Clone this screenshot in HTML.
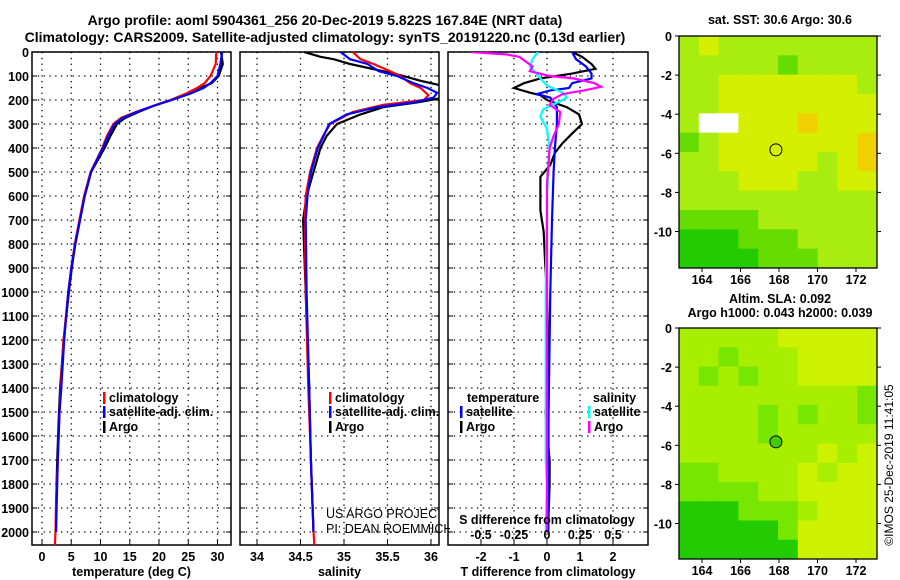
<!DOCTYPE html>
<html><head><meta charset="utf-8"><style>
html,body{margin:0;padding:0;background:#fff;}
svg{display:block;font-family:"Liberation Sans",Arial,sans-serif;}
.b{font-weight:bold;font-size:12.5px;}
.t{font-weight:bold;font-size:14px;}
</style></head><body>
<svg id="c" width="900" height="580" viewBox="0 0 900 580" xmlns="http://www.w3.org/2000/svg">
<defs>
<clipPath id="cp1"><rect x="32" y="52" width="199" height="493"/></clipPath>
<clipPath id="cp2"><rect x="240" y="52" width="199" height="493"/></clipPath>
<clipPath id="cp2w"><rect x="240" y="52" width="210" height="493"/></clipPath>
<clipPath id="cp3"><rect x="448" y="52" width="200" height="493"/></clipPath>
</defs>
<text class="t" x="325" y="25" text-anchor="middle">Argo profile: aoml 5904361_256 20-Dec-2019 5.822S 167.84E (NRT data)</text>
<text class="t" x="325" y="42" text-anchor="middle">Climatology: CARS2009. Satellite-adjusted climatology: synTS_20191220.nc (0.13d earlier)</text>
<g id="g1"></g>
<g id="g2"></g>
<g id="g3"></g>
<g id="gm"></g>
<text x="893" y="465" font-size="12" text-anchor="middle" transform="rotate(-90 893 465)">©IMOS 25-Dec-2019 11:41:05</text>
</svg>
<script>
// ---------- data ----------
const depthTicks=[0,100,200,300,400,500,600,700,800,900,1000,1100,1200,1300,1400,1500,1600,1700,1800,1900,2000];
const tempTicks=[0,5,10,15,20,25,30];
const salTicks=[34,34.5,35,35.5,36];
const tdiffTicks=[-2,-1,0,1,2];
const sdiffTicks=[-0.5,-0.25,0,0.25,0.5];

const tArgoD=[0,50,100,130,150,175,200,225,250,275,300,350,400,500,600,700,800,900,1000,1200,1400,1500,1700,1900,2000];
const tArgo=[30.6,30.9,30.2,29,27,24.5,22,19,16.5,14.2,12.8,11.7,10.7,8.4,7.3,6.5,5.7,5.1,4.6,3.7,3.1,2.9,2.6,2.4,2.4];
const tClimD=[0,50,100,130,150,175,200,225,250,275,300,350,400,500,600,700,800,900,1000,1200,1400,1500,1700,1900,2000,2054];
const tClim=[29.8,29.7,28.8,27.8,26.5,24.5,22,19,16,13.5,12.2,11.1,10.3,8.3,7.2,6.4,5.6,5.0,4.5,3.7,3.2,3.0,2.7,2.4,2.3,2.2];
const tSatD=[0,50,100,130,150,175,200,225,250,275,300,350,400,500,600,700,800,900,1000,1200,1400,1500,1700,1900,2000];
const tSat=[30.8,30.5,30.0,28.8,27.6,25.2,22.2,19,16.2,13.8,12.4,11.3,10.4,8.4,7.3,6.5,5.7,5.0,4.5,3.8,3.3,3.0,2.7,2.5,2.4];

const sArgoD=[0,20,30,50,80,100,120,140,160,190,210,230,260,300,350,400,500,600,700,1000,1400,1700,2000];
const sArgo=[34.54,34.73,34.88,35.07,35.45,35.68,35.88,36.12,36.2,36.15,35.84,35.45,35.19,34.92,34.8,34.73,34.65,34.57,34.53,34.56,34.6,34.62,34.65];
const sClimD=[0,30,50,80,100,130,150,180,200,220,250,300,350,400,500,600,700,1000,1400,1700,2000,2054];
const sClim=[35.1,35.19,35.34,35.53,35.65,35.76,35.88,35.97,35.92,35.45,35.1,34.84,34.76,34.69,34.61,34.56,34.55,34.56,34.59,34.62,34.65,34.66];
const sSatD=[0,30,50,80,100,130,150,170,190,210,230,260,300,400,500,600,700,1000,1400,1700,2000];
const sSat=[34.96,35.07,35.27,35.4,35.61,35.8,35.96,36.07,36.03,35.8,35.38,35.03,34.83,34.7,34.62,34.58,34.56,34.57,34.6,34.62,34.65];

const dtArgoD=[0,20,50,70,90,110,130,150,170,180,200,230,260,300,340,380,420,470,520,580,660,750,900,1000,1400,1500,1700,1800,2000];
const dtArgo=[0.76,1.06,1.35,1.47,0.76,-0.2,-0.7,-1.0,-0.5,-0.2,0,0.6,0.97,1.06,0.76,0.47,0.24,0.1,-0.2,-0.2,-0.2,-0.1,-0.05,0,0.05,-0.05,0.08,0.08,0.03];
const dtSatD=[0,30,60,90,110,130,150,160,175,190,230,300,400,500,700,1000,1500,2000];
const dtSat=[0.76,0.88,1.18,1.35,1.35,0.76,0.67,0.1,-0.3,0.1,0.3,0.3,0.24,0.2,0.15,0.1,0.05,0.04];
const dsSatD=[0,30,60,90,110,140,170,190,210,240,270,320,400,600,1000,1700,1800,2000];
const dsSat=[-0.07,-0.11,-0.13,-0.08,-0.05,0,0.12,0.15,0.08,-0.03,-0.05,0,0.02,0,-0.01,-0.01,0,-0.01];
const dsArgoD=[0,10,20,40,60,80,100,110,130,145,160,175,195,220,250,300,350,400,550,1000,2000];
const dsArgo=[-0.58,-0.31,-0.21,-0.16,-0.11,-0.13,0.02,0.2,0.36,0.41,0.28,0.12,0.05,0.02,0.1,0.09,0.05,0.02,0,0,0];

const sstLevels=[
[2,3,2,2,2,2,2,2,2,2],[2,2,2,2,2,1,2,2,2,2],[2,2,3,3,3,3,3,3,3,2],[2,2,3,3,3,3,3,3,3,3],
[2,5,5,3,3,3,4,3,3,3],[1,2,3,3,3,3,3,3,3,4],[2,2,3,3,3,3,3,2,3,4],[2,2,2,3,3,3,2,2,3,3],
[2,2,2,2,2,2,2,2,2,2],[1,1,1,1,2,2,2,2,2,2],[0,0,0,1,1,1,2,2,2,2],[0,0,0,0,1,1,1,2,2,2]];
const slaLevels=[
[2,2,2,2,2,3,3,3,3,3],[2,2,1,2,2,2,3,3,3,3],[2,1,2,1,2,2,3,3,3,3],[2,2,2,2,2,2,2,2,2,1],
[2,2,2,2,1,2,1,2,2,1],[2,2,2,2,1,2,2,2,2,2],[2,2,2,2,2,2,2,3,2,3],[1,1,2,2,2,2,3,2,3,3],
[1,1,1,1,2,2,3,3,3,3],[0,0,0,1,1,1,2,3,3,3],[0,0,0,0,0,1,3,3,3,3],[0,0,0,0,0,0,3,3,3,3]];
const lonTicks=[164,166,168,170,172];
const latTicks=[0,-2,-4,-6,-8,-10];
const floatLon=167.84, floatLat=-5.822;

// ---------- helpers ----------
const NS="http://www.w3.org/2000/svg";
function mk(tag,attrs,parent){const e=document.createElementNS(NS,tag);for(const k in attrs)e.setAttribute(k,attrs[k]);parent.appendChild(e);return e;}
const yD=d=>52+0.24*d;
const xT=t=>42+5.85*t;
const xS=s=>257+87*(s-34);
const xDT=t=>547+33*t;
const xDS=s=>547+132*s;

function panel(g,x0,x1,xf,ticks,fmt,title,showDepth){
  const fr=mk('g',{},g);
  
  
  depthTicks.forEach(d=>{
    const l=mk('line',{x1:x0,x2:x1,y1:yD(d),y2:yD(d),stroke:'#000','stroke-width':1.3,'stroke-dasharray':'1.3 4.5'},fr);
    
    
    mk('line',{x1:x0,x2:x0+5,y1:yD(d),y2:yD(d),stroke:'#000'},fr);
    mk('line',{x1:x1-5,x2:x1,y1:yD(d),y2:yD(d),stroke:'#000'},fr);
    if(showDepth){const t=mk('text',{x:x0-3,y:yD(d)+5,'text-anchor':'end',class:'b'},fr);t.textContent=d;
      
      }
  });
  ticks.forEach(v=>{
    const X=xf(v);
    const l=mk('line',{x1:X,x2:X,y1:52,y2:545,stroke:'#000','stroke-width':1.3,'stroke-dasharray':'1.3 4.5'},fr);
    
    
    mk('line',{x1:X,x2:X,y1:540,y2:545,stroke:'#000'},fr);
    const t=mk('text',{x:X,y:561,'text-anchor':'middle',class:'b'},fr);t.textContent=fmt(v);
    
    
  });
  const r=mk('rect',{x:x0,y:52,width:x1-x0,height:493,fill:'none',stroke:'#000','stroke-width':1.5},fr);
  
  
  const tt=mk('text',{x:(x0+x1)/2,y:576,'text-anchor':'middle',class:'b'},fr);tt.textContent=title;
  
  
}
function line(g,ds,vs,xf,color,name,clip){
  const pts=ds.map((d,i)=>xf(vs[i]).toFixed(1)+','+yD(d).toFixed(1)).join(' ');
  const p=mk('polyline',{points:pts,fill:'none',stroke:color,'stroke-width':2.2,'clip-path':'url(#'+clip+')'},g);
  
  
}
function legend(g,x,y,color,label,clipId){
  mk('rect',{x:x,y:y-10,width:2.5,height:12,fill:color},g);
  const t=mk('text',{x:x+6,y:y,class:'b'},g);t.textContent=label;
  if(clipId)t.setAttribute('clip-path','url(#'+clipId+')');
  
  
}

// panel 1
const g1=document.getElementById('g1');
panel(g1,32,231,xT,tempTicks,v=>v,'temperature (deg C)',true);
line(g1,tArgoD,tArgo,xT,'#000','temp-argo-line','cp1');
line(g1,tClimD,tClim,xT,'#f00','temp-climatology-line','cp1');
line(g1,tSatD,tSat,xT,'#00f','temp-satellite-line','cp1');
legend(g1,103,402,'#f00','climatology');
legend(g1,103,416,'#00f','satellite-adj. clim.');
legend(g1,103,431,'#000','Argo');

// panel 2
const g2=document.getElementById('g2');
panel(g2,240,439,xS,salTicks,v=>v,'salinity',false);
line(g2,sArgoD,sArgo,xS,'#000','sal-argo-line','cp2');
line(g2,sClimD,sClim,xS,'#f00','sal-climatology-line','cp2');
line(g2,sSatD,sSat,xS,'#00f','sal-satellite-line','cp2');
legend(g2,329,402,'#f00','climatology','cp2');
legend(g2,329,416,'#00f','satellite-adj. clim.','cp2');
legend(g2,329,431,'#000','Argo','cp2');
const u1=mk('text',{x:326,y:518,'font-size':12.5,fill:'#000','clip-path':'url(#cp2)'},g2);u1.textContent='US ARGO PROJECT';


const u2=mk('text',{x:326,y:533,'font-size':12.5,fill:'#000','clip-path':'url(#cp2w)'},g2);u2.textContent='PI: DEAN ROEMMICH';



// panel 3
const g3=document.getElementById('g3');
panel(g3,448,648,xDT,tdiffTicks,v=>v,'T difference from climatology',false);
line(g3,dtArgoD,dtArgo,xDT,'#000','tdiff-argo-line','cp3');
line(g3,dtSatD,dtSat,xDT,'#00f','tdiff-satellite-line','cp3');
line(g3,dsSatD,dsSat,xDS,'#0ff','sdiff-satellite-line','cp3');
line(g3,dsArgoD,dsArgo,xDS,'#f0f','sdiff-argo-line','cp3');
const th=mk('text',{x:467,y:402,class:'b'},g3);th.textContent='temperature';


const sh=mk('text',{x:593,y:402,class:'b'},g3);sh.textContent='salinity';


legend(g3,460,416,'#00f','satellite');
legend(g3,460,431,'#000','Argo');
legend(g3,588,416,'#0ff','satellite');
legend(g3,588,431,'#f0f','Argo');
const st=mk('text',{x:547,y:524,'text-anchor':'middle',class:'b'},g3);st.textContent='S difference from climatology';


sdiffTicks.forEach(v=>{const t=mk('text',{x:xDS(v),y:539,'text-anchor':'middle',class:'b'},g3);t.textContent=v;
  
  });

// maps
const gm=document.getElementById('gm');
const xL=lon=>702+(lon-164)*19.25;
function map(top,bot,levels,colors,title1,title2,filled,name){
  const mg=mk('g',{},gm);
  
  
  const x0=679,x1=877,rows=levels.length,cols=levels[0].length;
  const ch=(bot-top)/rows,cw=(x1-x0)/cols;
  levels.forEach((row,r)=>row.forEach((v,c)=>{
    const cell=mk('rect',{x:x0+c*cw,y:top+r*ch,width:cw+0.5,height:ch+0.5,fill:colors[v]},mg);
    
    
  }));
  mk('rect',{x:x0,y:top,width:x1-x0,height:bot-top,fill:'none',stroke:'#000','stroke-width':1.3},mg);
  const yl=lat=>top+(-lat)*19.55;
  latTicks.forEach(l=>{mk('line',{x1:x0-4,x2:x0,y1:yl(l),y2:yl(l),stroke:'#000'},mg);mk('line',{x1:x1,x2:x1+4,y1:yl(l),y2:yl(l),stroke:'#000'},mg);
    const t=mk('text',{x:x0-7,y:yl(l)+5,'text-anchor':'end',class:'b'},mg);t.textContent=l;
    
    });
  lonTicks.forEach(l=>{mk('line',{x1:xL(l),x2:xL(l),y1:bot,y2:bot+4,stroke:'#000'},mg);
    const t=mk('text',{x:xL(l),y:bot+16,'text-anchor':'middle',class:'b'},mg);t.textContent=l;
    
    });
  const c=mk('circle',{cx:xL(floatLon),cy:yl(floatLat),r:6,fill:filled?'#44cc00':'none',stroke:'#000','stroke-width':1},mg);
  
  
  title1.forEach((s,i)=>{const t=mk('text',{x:780,y:(title2[i]),'text-anchor':'middle',class:'b'},mg);t.textContent=s;
    
    });
}
map(36,268,sstLevels,['#22cc00','#66dd00','#a8ec10','#d4f000','#f0d000','#ffffff'],['sat. SST: 30.6 Argo: 30.6'],[24],false,'sst-map');
map(328,559,slaLevels,['#22cc00','#77e600','#a8ee00','#ccf200'],['Altim. SLA: 0.092','Argo h1000: 0.043 h2000: 0.039'],[303,317],true,'sla-map');
</script>
</body></html>
